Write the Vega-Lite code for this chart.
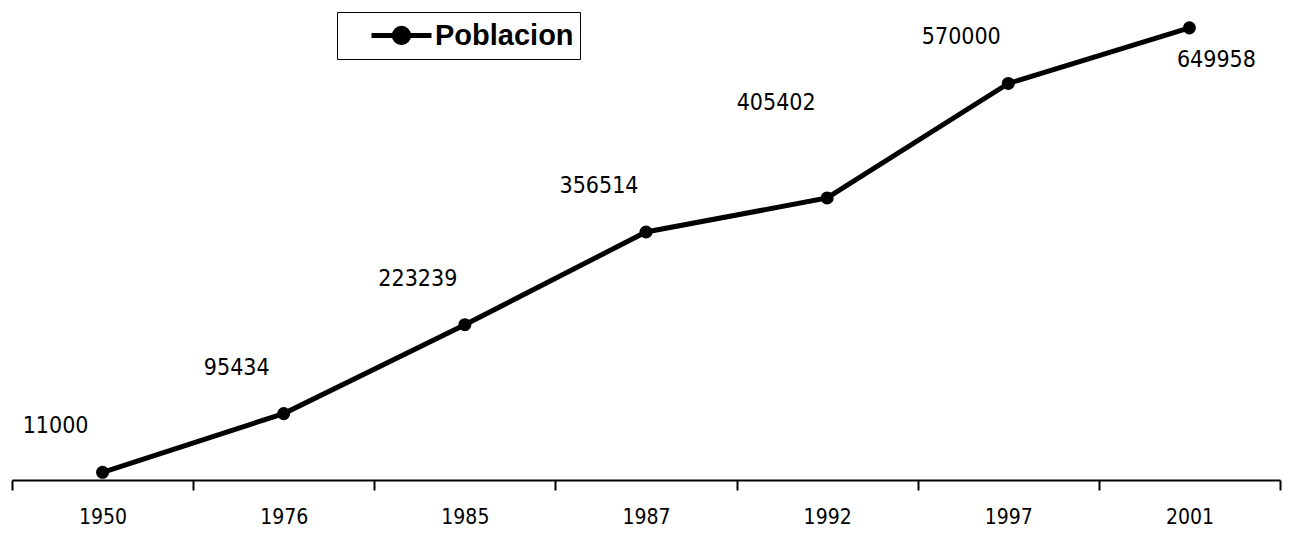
{
  "$schema": "https://vega.github.io/schema/vega-lite/v6.json",
  "autosize": "none",
  "width": 1268,
  "height": 480,
  "padding": {"left": 12, "top": 0, "right": 12, "bottom": 66},
  "background": "white",
  "config": {"view": {"stroke": null}, "font": "DejaVu Sans Condensed"},
  "data": {
    "values": [
      {"anio": "1950", "poblacion": 11000, "serie": "Poblacion"},
      {"anio": "1976", "poblacion": 95434, "serie": "Poblacion"},
      {"anio": "1985", "poblacion": 223239, "serie": "Poblacion"},
      {"anio": "1987", "poblacion": 356514, "serie": "Poblacion"},
      {"anio": "1992", "poblacion": 405402, "serie": "Poblacion"},
      {"anio": "1997", "poblacion": 570000, "serie": "Poblacion"},
      {"anio": "2001", "poblacion": 649958, "serie": "Poblacion"}
    ]
  },
  "encoding": {
    "x": {
      "field": "anio", "type": "ordinal",
      "scale": {"type": "band", "paddingInner": 0, "paddingOuter": 0},
      "axis": {
        "title": null, "labelAngle": 0, "tickBand": "extent",
        "domainColor": "black", "domainWidth": 2, "tickColor": "black", "tickWidth": 2, "tickSize": 10,
        "labelFont": "DejaVu Sans Condensed", "labelFontSize": 21, "labelColor": "black", "labelPadding": 16
      }
    },
    "y": {
      "field": "poblacion", "type": "quantitative",
      "scale": {"domain": [0, 690000], "nice": false, "zero": true},
      "axis": null
    }
  },
  "layer": [
    {
      "mark": {"type": "line", "color": "black", "strokeWidth": 5},
      "encoding": {
        "color": {
          "field": "serie", "type": "nominal",
          "scale": {"range": ["black"]},
          "legend": {
            "title": null, "orient": "none", "legendX": 325, "legendY": 12,
            "strokeColor": "black", "padding": 6, "fillColor": "white",
            "symbolType": "M-2 0H2M-0.48 0A0.48 0.48 0 1 0 0.48 0A0.48 0.48 0 1 0 -0.48 0Z",
            "symbolSize": 900, "symbolStrokeWidth": 5, "symbolStrokeColor": "black", "symbolFillColor": "black",
            "symbolOffset": 41,
            "labelFont": "Liberation Sans", "labelFontWeight": "bold", "labelFontSize": 29, "labelColor": "black",
            "labelOffset": 16
          }
        }
      }
    },
    {
      "mark": {"type": "point", "filled": true, "color": "black", "size": 170, "opacity": 1}
    },
    {
      "transform": [{"filter": "datum.anio != '1992' && datum.anio != '2001'"}],
      "mark": {"type": "text", "dx": -47, "dy": -46, "fontSize": 23, "color": "black", "font": "DejaVu Sans Condensed"},
      "encoding": {"text": {"field": "poblacion", "type": "quantitative", "format": "d"}}
    },
    {
      "transform": [{"filter": "datum.anio == '1992'"}],
      "mark": {"type": "text", "dx": -51, "dy": -95, "fontSize": 23, "color": "black", "font": "DejaVu Sans Condensed"},
      "encoding": {"text": {"field": "poblacion", "type": "quantitative", "format": "d"}}
    },
    {
      "transform": [{"filter": "datum.anio == '2001'"}],
      "mark": {"type": "text", "dx": 27, "dy": 32, "fontSize": 23, "color": "black", "font": "DejaVu Sans Condensed"},
      "encoding": {"text": {"field": "poblacion", "type": "quantitative", "format": "d"}}
    }
  ]
}
